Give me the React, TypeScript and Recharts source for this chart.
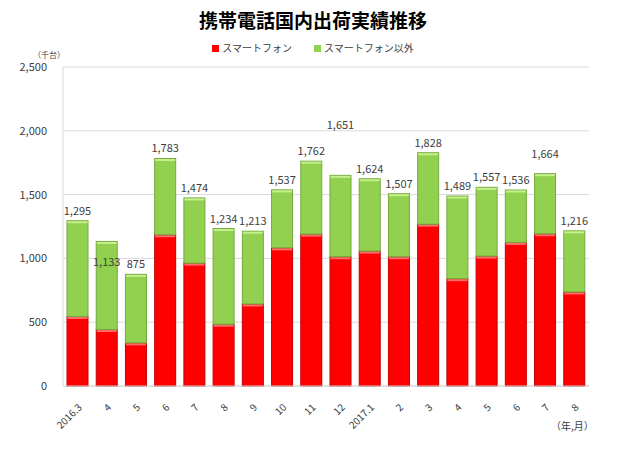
import { BarChart, Bar, XAxis, YAxis, CartesianGrid, LabelList } from "recharts";

const months = [
  "2016.3", "4", "5", "6", "7", "8", "9", "10", "11", "12",
  "2017.1", "2", "3", "4", "5", "6", "7", "8",
];
const smartphone = [545, 443, 338, 1185, 963, 484, 643, 1083, 1190, 1013, 1057, 1013, 1268, 841, 1018, 1125, 1193, 737];
const totals = [1295, 1133, 875, 1783, 1474, 1234, 1213, 1537, 1762, 1651, 1624, 1507, 1828, 1489, 1557, 1536, 1664, 1216];
const yTicks = [0, 500, 1000, 1500, 2000, 2500];

const data = months.map((m, i) => ({
  month: m,
  smart: smartphone[i],
  other: totals[i] - smartphone[i],
  total: totals[i],
}));

// label nudges as placed in the original sheet
const labelShift: Record<number, number> = { 1: 31, 9: -40, 16: -10 };

const FONT = "'Noto Sans CJK JP', 'Open Sans', sans-serif";

function Shaded(props: any) {
  const { x, y, width, height, fill, stroke, light } = props;
  if (!height || height <= 0) return null;
  return (
    <g>
      <rect x={x} y={y} width={width} height={height} fill={fill} stroke={stroke} strokeWidth={1} />
      <rect x={x + 0.5} y={y + 0.5} width={width - 1} height={2} fill={light} />
    </g>
  );
}

function MonthTick(props: any) {
  const { x, y, payload } = props;
  return (
    <text
      x={x + 5}
      y={y + 14}
      textAnchor="end"
      transform={`rotate(-45 ${x + 5} ${y + 14})`}
      fontSize={10}
      fill="#404040"
      fontFamily={FONT}
    >
      {payload.value}
    </text>
  );
}

function TotalLabel(props: any) {
  const { x, y, width, index } = props;
  const t = totals[index];
  const dy = labelShift[index] ?? 0;
  return (
    <text
      x={x + width / 2}
      y={y - 6 + dy}
      textAnchor="middle"
      fontSize={11}
      fill="#404040"
      fontFamily={FONT}
    >
      {t.toLocaleString("en-US")}
    </text>
  );
}

export default function App() {
  return (
    <div
      style={{
        position: "relative",
        width: 624,
        height: 467,
        margin: -8,
        border: "1px solid #d0d0d0",
        background: "#fff",
        fontFamily: FONT,
      }}
    >
      <div style={{ position: "absolute", top: 5, left: 0, width: 624, textAlign: "center", fontSize: 19, fontWeight: 700, color: "#000" }}>
        携帯電話国内出荷実績推移
      </div>
      <div style={{ position: "absolute", top: 40, left: 0, width: 624, display: "flex", justifyContent: "center", gap: 22, fontSize: 10, lineHeight: "14px", color: "#404040" }}>
        <span style={{ display: "flex", alignItems: "center" }}>
          <span style={{ width: 7, height: 7, background: "#ff0000", marginRight: 3 }} />
          スマートフォン
        </span>
        <span style={{ display: "flex", alignItems: "center" }}>
          <span style={{ width: 7, height: 7, background: "#92d050", marginRight: 3 }} />
          スマートフォン以外
        </span>
      </div>
      <div style={{ position: "absolute", top: 49, left: 32, fontSize: 8, lineHeight: "9px", color: "#404040" }}>（千台）</div>
      <div style={{ position: "absolute", top: 419, left: 550, fontSize: 10, lineHeight: "12px", color: "#404040" }}>（年,月）</div>
      <BarChart
        width={624}
        height={467}
        data={data}
        margin={{ top: 66, right: 36, bottom: 32, left: 7 }}
        barSize={21}
      >
        <CartesianGrid vertical={false} stroke="#d9d9d9" />
        <XAxis
          dataKey="month"
          interval={0}
          tick={<MonthTick />}
          tickLine={false}
          axisLine={{ stroke: "#d9d9d9" }}
          height={50}
        />
        <YAxis
          domain={[0, 2500]}
          ticks={yTicks}
          width={55}
          tickLine={false}
          tickMargin={10}
          axisLine={{ stroke: "#d9d9d9" }}
          tick={{ fontSize: 11, fill: "#404040", fontFamily: FONT }}
          tickFormatter={(v: number) => v.toLocaleString("en-US")}
        />
        <Bar
          dataKey="smart"
          stackId="a"
          fill="#ff0000"
          isAnimationActive={false}
          shape={<Shaded stroke="#c00000" light="#ff6b6b" />}
        />
        <Bar
          dataKey="other"
          stackId="a"
          fill="#92d050"
          isAnimationActive={false}
          shape={<Shaded stroke="#77a83c" light="#c4f08e" />}
        >
          <LabelList dataKey="total" content={<TotalLabel />} />
        </Bar>
      </BarChart>
    </div>
  );
}
